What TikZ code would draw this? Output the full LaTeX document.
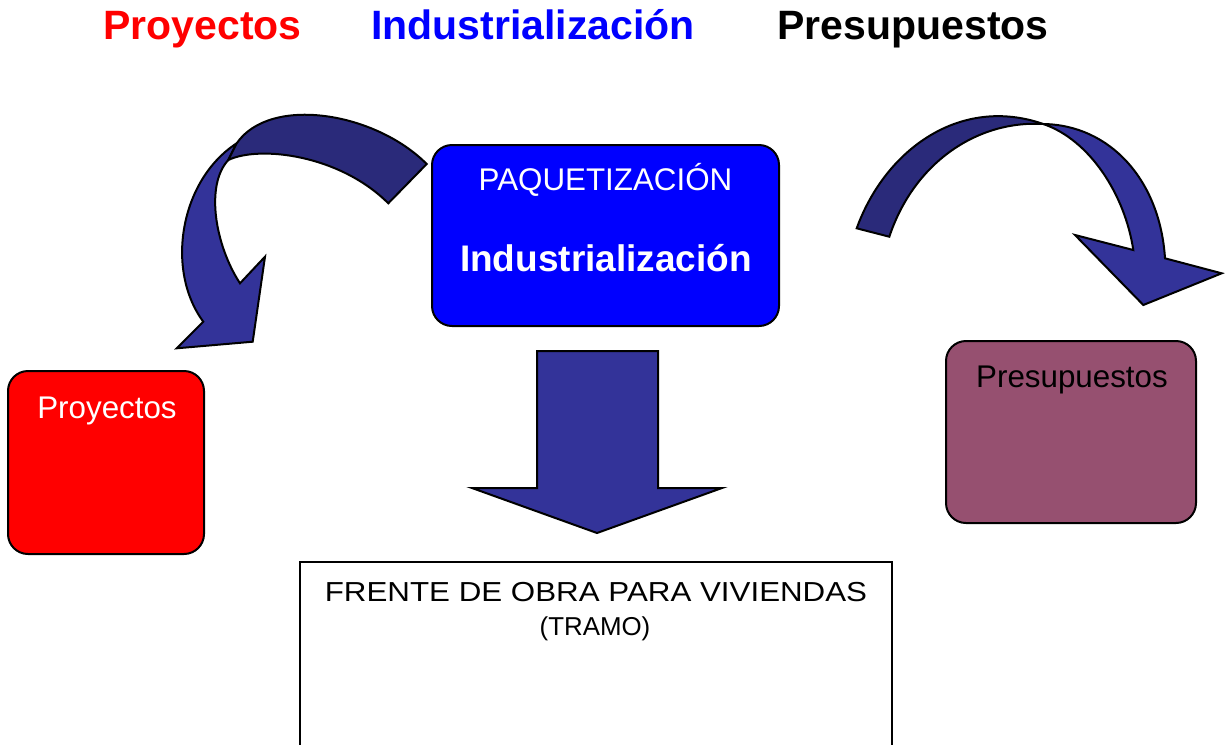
\documentclass[tikz,border=0pt]{standalone}
\usepackage{fontspec}
\setmainfont{Liberation Sans}
\newfontfamily\widesans{Liberation Sans}[FakeStretch=1.14]
\usetikzlibrary{positioning}

\newcommand{\fsz}[1]{\fontsize{#1}{#1}\selectfont}
\definecolor{navyband}{RGB}{51,51,153}
\definecolor{navydark}{RGB}{42,42,122}
\definecolor{presbox}{RGB}{150,80,112}

\begin{document}
\begin{tikzpicture}[
  x=0.75pt, y=-0.75pt,
  boxnode/.style={draw=black, line width=1.5pt, rounded corners=15pt, inner sep=0pt},
  boxtext/.style={anchor=base, inner sep=0pt, font=\fsz{23.5pt}},
  titletext/.style={anchor=base, inner sep=0pt, font=\bfseries\fsz{30.75pt}},
  bandlight/.style={draw=black, line width=1.5pt, fill=navyband},
  banddark/.style={draw=black, line width=1.5pt, fill=navydark},
]
\useasboundingbox (0,0) rectangle (1225,744);

%% ============ TITLE ============
\node[titletext, red]  (tproy) at (202.5,39.5) {Proyectos};
\node[titletext, blue] (tind)  at (533,39.5)   {Industrialización};
\node[titletext]       (tpres) at (913,39.5)   {Presupuestos};

%% ============ CURVED ARROW, LEFT ============
% lower band with head
\draw[bandlight] (236.7,143.3) .. controls (180,180) and (165,270) .. (203.3,321.7)
  -- (176.7,348.3) -- (252.7,341.7) -- (265,256.7) -- (240,283.3)
  .. controls (215,245) and (205,185) .. (228.3,160) -- cycle;
% upper band
\draw[banddark] (426.7,164) .. controls (375,112) and (270,95) .. (236.7,143.3)
  -- (228.3,160) .. controls (260,145) and (340,155) .. (388.3,203.3) -- cycle;

%% ============ CURVED ARROW, RIGHT ============
% lower band with head
\draw[bandlight] (1043.3,124) .. controls (1110,125) and (1160,180) .. (1165,258.3)
  -- (1221.7,273.3) -- (1143.3,305) -- (1075,235) -- (1133.3,250)
  .. controls (1125,195) and (1090,140) .. (1043.3,124) -- cycle;
% upper band
\draw[banddark] (856.7,228.3) .. controls (885,150) and (960,95) .. (1043.3,124)
  .. controls (980,120) and (915,160) .. (889.3,236.7) -- cycle;

%% ============ DOWN ARROW ============
\draw[bandlight] (537,351) -- (658,351) -- (658,488) -- (722,488) -- (597,533) -- (472,488) -- (537,488) -- cycle;

%% ============ BOXES ============
\node[boxnode, fill=blue, minimum width=260.25pt, minimum height=135.75pt] (paq) at (605.5,235.5) {};
\node[boxnode, fill=red, minimum width=147pt, minimum height=137.25pt] (proy) at (106,462.5) {};
\node[boxnode, fill=presbox, minimum width=187.5pt, minimum height=136.5pt] (pres) at (1071,432) {};
\node[draw, line width=1.1pt, fill=white, minimum width=444pt, minimum height=148.5pt] (frente) at (596,661) {};

%% ---- box texts ----
\node[boxtext, white] (paqt) at (605.5,190) {PAQUETIZACIÓN};
\node[boxtext, white, font=\bfseries\fsz{27.75pt}] (indt) at (606,271) {Industrialización};
\node[boxtext, white] (proyt) at (107,418) {Proyectos};
\node[boxtext] (prest) at (1072,387) {Presupuestos};
\node[boxtext, font=\widesans\fsz{20.6pt}] (frentet) at (596,601) {FRENTE DE OBRA PARA VIVIENDAS};
\node[boxtext, font=\fsz{19.4pt}] (tramot) at (595,635) {(TRAMO)};

\end{tikzpicture}
\end{document}
